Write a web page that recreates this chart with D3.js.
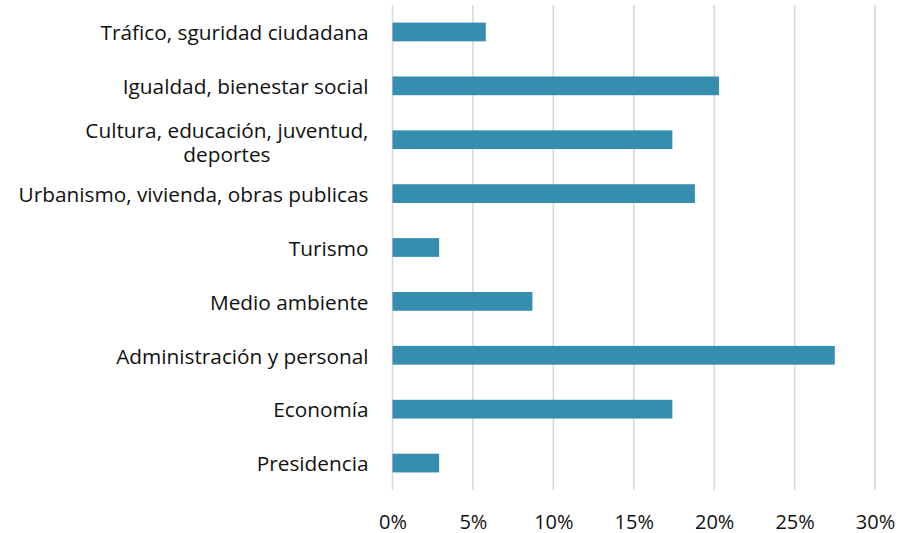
<!DOCTYPE html>
<html>
<head>
<meta charset="utf-8">
<script src="https://cdn.jsdelivr.net/npm/d3@7"></script>
<style>
  html, body { margin: 0; padding: 0; background: #fff; }
  svg { display: block; }
  text { font-family: "Open Sans", Lato, sans-serif; fill: #111; }
</style>
</head>
<body>
<svg id="chart" width="908" height="533"></svg>
<script>
// Share of items per area (top to bottom)
const categories = [
  "Tráfico, sguridad ciudadana",
  "Igualdad, bienestar social",
  "Cultura, educación, juventud,|deportes",
  "Urbanismo, vivienda, obras publicas",
  "Turismo",
  "Medio ambiente",
  "Administración y personal",
  "Economía",
  "Presidencia"
];
const values = [5.8, 20.3, 17.4, 18.8, 2.9, 8.7, 27.5, 17.4, 2.9];
const xTicks = [0, 5, 10, 15, 20, 25, 30];

const svg = d3.select("#chart");
const margin = { top: 5, right: 33, bottom: 43, left: 392.5 };
const W = 908, H = 533;
const innerW = W - margin.left - margin.right;
const innerH = H - margin.top - margin.bottom;

const x = d3.scaleLinear().domain([0, 30]).range([0, innerW]);
const y = d3.scaleBand().domain(categories).range([0, innerH]).paddingInner(0.652).paddingOuter(0.326);

const g = svg.append("g").attr("transform", `translate(${margin.left},${margin.top})`);

// vertical gridlines
g.append("g")
  .selectAll("line")
  .data(xTicks)
  .join("line")
  .attr("x1", d => x(d)).attr("x2", d => x(d))
  .attr("y1", 0).attr("y2", innerH)
  .attr("stroke", "#d9d9d9")
  .attr("stroke-width", 1.6);

// bars
g.append("g")
  .selectAll("rect")
  .data(values)
  .join("rect")
  .attr("x", x(0))
  .attr("y", (d, i) => y(categories[i]))
  .attr("width", d => x(d) - x(0))
  .attr("height", y.bandwidth())
  .attr("fill", "#368eae");

// x axis tick labels
const xAxis = d3.axisBottom(x).tickValues(xTicks).tickFormat(d => d + "%").tickSize(0).tickPadding(0);
const xa = g.append("g").attr("transform", `translate(0,${innerH})`).call(xAxis);
xa.select(".domain").remove();
xa.selectAll("text")
  .attr("y", 38.5)
  .attr("dy", null)
  .style("font-family", "'Open Sans', Lato, sans-serif")
  .style("font-size", "20px")
  .style("fill", "#111");

// category labels, wrapped lines centred on the widest line
const labelX = -24;
const labels = g.append("g");
categories.forEach(c => {
  const lines = c.split("|");
  const lh = 24;
  const cy = y(c) + y.bandwidth() / 2 + (lines.length > 1 ? 3 : 1);
  const t = labels.append("text")
    .attr("font-size", "20.8px")
    .attr("text-anchor", "end");
  const y0 = cy - (lines.length - 1) * lh / 2;
  lines.forEach((ln, i) => {
    t.append("tspan").attr("x", labelX).attr("y", y0 + i * lh).attr("dy", "0.35em").text(ln);
  });
  if (lines.length > 1) {
    const spans = t.selectAll("tspan").nodes();
    const widths = spans.map(s => s.getComputedTextLength());
    const maxW = d3.max(widths);
    const center = labelX - maxW / 2;
    spans.forEach(s => d3.select(s).attr("text-anchor", "middle").attr("x", center));
  }
});
</script>
</body>
</html>
